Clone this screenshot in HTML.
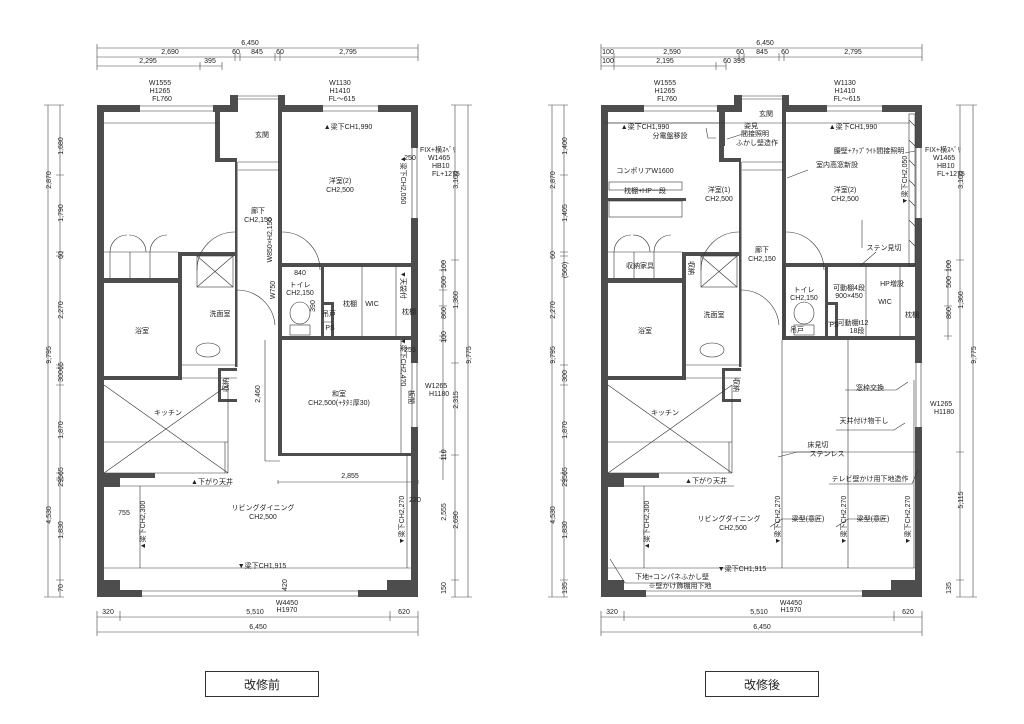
<!DOCTYPE html>
<html><head><meta charset="utf-8"><style>
html,body{margin:0;padding:0;background:#fff;width:1024px;height:724px;overflow:hidden}
svg{display:block}
text{font-family:"Liberation Sans","Noto Sans CJK JP",sans-serif;fill:#222}
.s{font-size:7px}
.m{font-size:7.5px}
.w{fill:#4d4d4d}
.l{stroke:#333;stroke-width:.6;fill:none}
.t{stroke:#555;stroke-width:1.6;fill:none}
.d{stroke:#444;stroke-width:.6;fill:none}
</style></head><body>
<svg width="1024" height="724" viewBox="0 0 1024 724" xmlns="http://www.w3.org/2000/svg">
<defs>
<g id="walls">
 <!-- outer -->
 <rect class="w" x="97" y="105" width="7" height="492"/>
 <rect class="w" x="97" y="105" width="43" height="7"/>
 <rect class="w" x="213" y="105" width="17" height="7"/>
 <rect class="w" x="230" y="95" width="8" height="17"/>
 <rect class="w" x="278" y="95" width="7" height="17"/>
 <rect class="w" x="285" y="105" width="38" height="7"/>
 <rect class="w" x="378" y="105" width="40" height="7"/>
 <rect class="w" x="411" y="105" width="7" height="43"/>
 <rect class="w" x="411" y="218" width="7" height="145"/>
 <rect class="w" x="411" y="427" width="7" height="170"/>
 <rect class="w" x="97" y="590" width="45" height="7"/>
 <rect class="w" x="358" y="590" width="60" height="7"/>
 <rect class="w" x="97" y="580" width="23" height="17"/>
 <rect class="w" x="387" y="580" width="31" height="17"/>
 <!-- windows -->
 <path class="l" d="M140 106H213M140 111H213M323 106H378M323 111H378M412 148V218M417 148V218M412 363V427M417 363V427M142 591H358M142 596H358M238 96H278M238 99H278"/>
 <!-- entry closet -->
 <rect class="w" x="215" y="112" width="5" height="50"/>
 <rect class="w" x="215" y="158" width="22" height="4"/>
 <path class="l" d="M238 162H278M238 170H278"/>
 <!-- hall walls -->
 <rect class="w" x="235" y="162" width="2.5" height="205"/>
 <rect class="w" x="278" y="112" width="4" height="153"/>
 <!-- left bedroom closet -->
 <path class="l" d="M104 252H178M104 123H218"/>
 <rect class="w" x="97" y="278" width="83" height="5"/>
 <path class="l" d="M110 252V278M130 252V278M150 252V278"/>
 <path class="l" d="M110 252A17 17 0 0 1 127 235M146 252A17 17 0 0 0 129 235M150 252A17 17 0 0 1 167 235"/>
 <!-- bath/wash -->
 <rect class="w" x="178" y="252" width="4" height="128"/>
 <rect class="w" x="178" y="252" width="59" height="4"/>
 <rect class="w" x="97" y="376" width="85" height="4"/>
 <rect class="l" x="197" y="256" width="36" height="31"/>
 <path class="l" d="M197 256L233 287M233 256L197 287M182 365H237M182 378H237"/>
 <ellipse class="l" cx="208" cy="350" rx="12" ry="7"/>
 <!-- storage -->
 <rect class="w" x="218" y="368" width="19" height="3"/>
 <rect class="w" x="218" y="368" width="3" height="34"/>
 <rect class="w" x="218" y="399" width="19" height="3"/>
 <!-- kitchen -->
 <path class="l" d="M104 385L228 473M228 385L104 473M104 442H228M228 385V473M225 442V473M104 473H228"/>
 <rect class="w" x="97" y="473" width="58" height="5"/>
 <rect class="w" x="97" y="473" width="23" height="14"/>
 <path class="l" d="M120 486H230M140 486V568M104 568H411"/>
 <!-- toilet / wic -->
 <rect class="w" x="278" y="263" width="140" height="4"/>
 <rect class="w" x="278" y="263" width="4" height="77"/>
 <rect class="w" x="278" y="336" width="140" height="4"/>
 <rect class="w" x="321" y="263" width="3" height="77"/>
 <rect class="w" x="324" y="302" width="8" height="3"/>
 <rect class="w" x="331" y="302" width="3" height="34"/>
 <path class="l" d="M324 322H333M362 267V336M396 267V336"/>
 <ellipse class="l" cx="300" cy="313" rx="10" ry="11"/>
 <rect class="l" x="290" y="325" width="20" height="10"/>
 <!-- doors -->
 <path class="l" d="M235 232A38 38 0 0 0 197 270M282 232A38 38 0 0 1 320 270M237 290A38 38 0 0 1 275 325"/>
</g>
</defs>

<use href="#walls"/>
<use href="#walls" x="504"/>

<!-- LEFT specific: washitsu -->
<rect class="w" x="278" y="340" width="4" height="115"/>
<rect class="w" x="278" y="453" width="140" height="3"/>
<path class="l" d="M265 340V461M265 461H280M401 340V453M407 455V568"/>
<path class="d" d="M278 482H418M278 480V484M418 480V484"/>

<!-- RIGHT specific -->
<path class="l" d="M782 340V568M848 340V568M914 380V568M782 452H918M784 263V340M862 220V248"/>
<rect class="l" x="609" y="182" width="73" height="8"/>
<rect class="w" x="604" y="198" width="82" height="3"/>
<rect class="l" x="609" y="201" width="73" height="16"/>
<rect class="l" x="909" y="114" width="6" height="152"/>
<path class="l" d="M909 120L915 126M909 140L915 146M909 160L915 166M909 180L915 186M909 200L915 206M909 220L915 226M909 240L915 246"/>
<rect class="w" x="719" y="108" width="6" height="38"/>
<path class="l" d="M604 123H910"/>

<!-- top dims left -->
<path class="d" d="M97 48H418M97 57H418M97 66H222M97 44V70M418 44V61M235 53V61M240 53V61M275 53V61M280 53V61M200 62V70M222 62V70"/>
<text class="s" x="250" y="45" text-anchor="middle">6,450</text>
<text class="s" x="170" y="54" text-anchor="middle">2,690</text>
<text class="s" x="236" y="54" text-anchor="middle">60</text>
<text class="s" x="257" y="54" text-anchor="middle">845</text>
<text class="s" x="280" y="54" text-anchor="middle">60</text>
<text class="s" x="348" y="54" text-anchor="middle">2,795</text>
<text class="s" x="148" y="63" text-anchor="middle">2,295</text>
<text class="s" x="210" y="63" text-anchor="middle">395</text>
<!-- top dims right -->
<path class="d" d="M601 48H922M601 57H922M601 66H726M601 44V70M922 44V61M614 53V70M739 53V61M744 53V61M779 53V61M784 53V61M716 62V70M726 62V70"/>
<text class="s" x="765" y="45" text-anchor="middle">6,450</text>
<text class="s" x="608" y="54" text-anchor="middle">100</text>
<text class="s" x="672" y="54" text-anchor="middle">2,590</text>
<text class="s" x="740" y="54" text-anchor="middle">60</text>
<text class="s" x="762" y="54" text-anchor="middle">845</text>
<text class="s" x="785" y="54" text-anchor="middle">60</text>
<text class="s" x="853" y="54" text-anchor="middle">2,795</text>
<text class="s" x="608" y="63" text-anchor="middle">100</text>
<text class="s" x="665" y="63" text-anchor="middle">2,195</text>
<text class="s" x="727" y="63" text-anchor="middle">60</text>
<text class="s" x="739" y="63" text-anchor="middle">395</text>

<!-- window labels -->
<g class="s" text-anchor="middle">
<text x="160" y="85">W1555</text><text x="160" y="93">H1265</text><text x="162" y="101">FL760</text>
<text x="340" y="85">W1130</text><text x="340" y="93">H1410</text><text x="342" y="101">FL～615</text>
<text x="665" y="85">W1555</text><text x="665" y="93">H1265</text><text x="667" y="101">FL760</text>
<text x="845" y="85">W1130</text><text x="845" y="93">H1410</text><text x="847" y="101">FL～615</text>
</g>
<g class="s">
<text x="420" y="152">FIX+横ｽﾍﾞﾘ</text><text x="428" y="160">W1465</text><text x="432" y="168">HB10</text><text x="432" y="176">FL+1275</text>
<text x="425" y="388">W1265</text><text x="429" y="396">H1180</text>
<text x="925" y="152">FIX+横ｽﾍﾞﾘ</text><text x="933" y="160">W1465</text><text x="937" y="168">HB10</text><text x="937" y="176">FL+1275</text>
<text x="930" y="406">W1265</text><text x="934" y="414">H1180</text>
</g>

<!-- side dims left plan -->
<path class="d" d="M48 105V597M60 105V597M44 105H64M44 597H64M56 175H64M56 252H64M56 256H64M56 365H64M56 368H64M56 385H64M56 473H64M56 478H64M56 480H64M56 580H64"/>
<path class="d" d="M455 105V597M468 105V597M443 260V480M451 105H472M451 597H472M451 260H459M451 363H459M451 455H459M451 580H459M439 270H447M439 290H447M439 306H447M439 336H447M439 340H447M439 452H447M439 458H447"/>
<path class="d" d="M552 105V597M564 105V597M548 105H568M548 597H568M560 175H568M560 252H568M560 256H568M560 365H568M560 385H568M560 473H568M560 480H568M560 580H568"/>
<path class="d" d="M960 105V597M973 105V597M948 260V340M956 105H977M956 597H977M956 260H964M956 452H964M956 580H964M944 270H952M944 306H952M944 336H952"/>
<g class="s" text-anchor="middle">
<text transform="translate(63,146) rotate(-90)">1,680</text>
<text transform="translate(51,180) rotate(-90)">2,870</text>
<text transform="translate(63,213) rotate(-90)">1,790</text>
<text transform="translate(63,255) rotate(-90)">60</text>
<text transform="translate(63,310) rotate(-90)">2,270</text>
<text transform="translate(51,355) rotate(-90)">9,795</text>
<text transform="translate(63,376) rotate(-90)">300</text>
<text transform="translate(63,366) rotate(-90)">65</text>
<text transform="translate(63,430) rotate(-90)">1,870</text>
<text transform="translate(51,515) rotate(-90)">4,530</text>
<text transform="translate(63,477) rotate(-90)">29565</text>
<text transform="translate(63,530) rotate(-90)">1,830</text>
<text transform="translate(63,588) rotate(-90)">70</text>
<text transform="translate(458,180) rotate(-90)">3,100</text>
<text transform="translate(446,266) rotate(-90)">100</text>
<text transform="translate(446,282) rotate(-90)">500</text>
<text transform="translate(458,300) rotate(-90)">1,360</text>
<text transform="translate(446,313) rotate(-90)">860</text>
<text transform="translate(446,337) rotate(-90)">100</text>
<text transform="translate(471,355) rotate(-90)">9,775</text>
<text transform="translate(458,400) rotate(-90)">2,315</text>
<text transform="translate(446,455) rotate(-90)">110</text>
<text transform="translate(446,512) rotate(-90)">2,555</text>
<text transform="translate(458,520) rotate(-90)">2,690</text>
<text transform="translate(446,588) rotate(-90)">150</text>

<text transform="translate(567,146) rotate(-90)">1,400</text>
<text transform="translate(555,180) rotate(-90)">2,870</text>
<text transform="translate(567,213) rotate(-90)">1,405</text>
<text transform="translate(555,255) rotate(-90)">60</text>
<text transform="translate(567,270) rotate(-90)">(560)</text>
<text transform="translate(555,310) rotate(-90)">2,270</text>
<text transform="translate(555,355) rotate(-90)">9,795</text>
<text transform="translate(567,376) rotate(-90)">300</text>
<text transform="translate(567,430) rotate(-90)">1,870</text>
<text transform="translate(555,515) rotate(-90)">4,530</text>
<text transform="translate(567,477) rotate(-90)">29565</text>
<text transform="translate(567,530) rotate(-90)">1,830</text>
<text transform="translate(567,588) rotate(-90)">135</text>
<text transform="translate(963,180) rotate(-90)">3,100</text>
<text transform="translate(951,266) rotate(-90)">100</text>
<text transform="translate(951,282) rotate(-90)">500</text>
<text transform="translate(963,300) rotate(-90)">1,360</text>
<text transform="translate(951,313) rotate(-90)">860</text>
<text transform="translate(976,355) rotate(-90)">9,775</text>
<text transform="translate(963,500) rotate(-90)">5,115</text>
<text transform="translate(951,588) rotate(-90)">135</text>
</g>

<!-- bottom dims -->
<path class="d" d="M97 617H418M97 632H418M97 611V636M120 611V621M390 611V621M418 611V636"/>
<path class="d" d="M601 617H922M601 632H922M601 611V636M624 611V621M894 611V621M922 611V636"/>
<g class="s" text-anchor="middle">
<text x="108" y="614">320</text><text x="255" y="614">5,510</text><text x="404" y="614">620</text><text x="258" y="629">6,450</text>
<text x="612" y="614">320</text><text x="759" y="614">5,510</text><text x="908" y="614">620</text><text x="762" y="629">6,450</text>
<text x="287" y="605">W4450</text><text x="287" y="612">H1970</text>
<text x="791" y="605">W4450</text><text x="791" y="612">H1970</text>
</g>

<!-- room labels left -->
<g class="s" text-anchor="middle">
<text x="262" y="137">玄関</text>
<text x="258" y="213">廊下</text><text x="258" y="222">CH2,150</text>
<text x="340" y="183">洋室(2)</text><text x="340" y="192">CH2,500</text>
<text x="348" y="129">▲梁下CH1,990</text>
<text x="300" y="287">トイレ</text><text x="300" y="295">CH2,150</text>
<text x="300" y="275">840</text>
<text x="350" y="306">枕棚</text><text x="372" y="306">WIC</text><text x="409" y="314">枕棚</text>
<text x="329" y="316">吊戸</text><text x="330" y="330">PS</text>
<text x="220" y="316">洗面室</text>
<text x="142" y="333">浴室</text>
<text x="339" y="396">和室</text><text x="339" y="405">CH2,500(+ﾀﾀﾐ厚30)</text>
<text x="168" y="415">キッチン</text>
<text x="212" y="484">▲下がり天井</text>
<text x="263" y="510">リビングダイニング</text><text x="263" y="519">CH2,500</text>
<text x="262" y="568">▼梁下CH1,915</text>
<text x="124" y="515">755</text>
<text x="350" y="478">2,855</text>
<text x="410" y="160">250</text>
<text x="410" y="352">255</text>
<text x="415" y="502">220</text>
</g>
<g class="s" text-anchor="middle">
<text transform="translate(401,180) rotate(90)">▼梁下CH2,050</text>
<text transform="translate(401,285) rotate(90)">▼天袋付</text>
<text transform="translate(401,362) rotate(90)">▼梁下CH2,4?0</text>
<text transform="translate(409,397) rotate(90)">板間</text>
<text transform="translate(272,240) rotate(-90)">W850×H2,150</text>
<text transform="translate(275,290) rotate(-90)">W750</text>
<text transform="translate(315,306) rotate(-90)">390</text>
<text transform="translate(260,394) rotate(-90)">2,460</text>
<text transform="translate(228,385) rotate(-90)">収納</text>
<text transform="translate(145,525) rotate(-90)">▲梁下CH2,300</text>
<text transform="translate(404,520) rotate(-90)">▼梁下CH2,270</text>
<text transform="translate(287,585) rotate(-90)">420</text>
</g>

<!-- room labels right -->
<g class="s" text-anchor="middle">
<text x="766" y="116">玄関</text>
<text x="645" y="129">▲梁下CH1,990</text>
<text x="670" y="138">分電盤移設</text>
<text x="751" y="128">姿見</text><text x="755" y="136">間接照明</text><text x="757" y="145">ふかし壁造作</text>
<text x="853" y="129">▲梁下CH1,990</text>
<text x="869" y="153">腰壁+ｱｯﾌﾟﾗｲﾄ間接照明</text>
<text x="837" y="167">室内高窓新設</text>
<text x="645" y="173">コンポリアW1600</text>
<text x="645" y="193">枕棚+HP一段</text>
<text x="719" y="192">洋室(1)</text><text x="719" y="201">CH2,500</text>
<text x="845" y="192">洋室(2)</text><text x="845" y="201">CH2,500</text>
<text x="762" y="252">廊下</text><text x="762" y="261">CH2,150</text>
<text x="884" y="250">ステン見切</text>
<text x="640" y="268">収納家具</text>
<text x="804" y="292">トイレ</text><text x="804" y="300">CH2,150</text>
<text x="849" y="290">可動棚4段</text><text x="849" y="298">900×450</text>
<text x="892" y="286">HP増設</text>
<text x="885" y="304">WIC</text>
<text x="912" y="317">枕棚</text>
<text x="797" y="332">吊戸</text>
<text x="834" y="327">PS</text>
<text x="853" y="325">可動棚t12</text><text x="857" y="333">18段</text>
<text x="714" y="317">洗面室</text>
<text x="645" y="333">浴室</text>
<text x="870" y="390">窓枠交換</text>
<text x="864" y="423">天井付け物干し</text>
<text x="818" y="447">床見切</text><text x="827" y="456">ステンレス</text>
<text x="870" y="481">テレビ壁かけ用下地造作</text>
<text x="665" y="415">キッチン</text>
<text x="706" y="483">▲下がり天井</text>
<text x="729" y="521">リビングダイニング</text><text x="733" y="530">CH2,500</text>
<text x="808" y="521">梁型(意匠)</text>
<text x="873" y="521">梁型(意匠)</text>
<text x="742" y="571">▼梁下CH1,915</text>
<text x="672" y="579">下地+コンパネふかし壁</text>
<text x="680" y="588">※壁かけ飾棚用下地</text>
</g>
<g class="s" text-anchor="middle">
<text transform="translate(689,268) rotate(90)">収納</text>
<text transform="translate(734,385) rotate(90)">収納</text>
<text transform="translate(907,180) rotate(-90)">▼梁下CH2,050</text>
<text transform="translate(649,525) rotate(-90)">▲梁下CH2,300</text>
<text transform="translate(780,520) rotate(-90)">▼梁下CH2,270</text>
<text transform="translate(846,520) rotate(-90)">▼梁下CH2,270</text>
<text transform="translate(910,520) rotate(-90)">▼梁下CH2,270</text>
</g>
<path class="l" d="M716 138H708L706 128M746 133L727 139M905 153L915 151M808 170L787 178M876 252L860 266M908 382L896 390H845M905 423L894 430H836M778 457L797 452H835M918 470L912 484H829M770 527L782 519H820M836 527L848 519H885M610 559L625 583H710"/>

<!-- caption boxes -->
<rect x="205.5" y="671.5" width="113" height="25" fill="none" stroke="#333" stroke-width="1"/>
<text x="262" y="689" text-anchor="middle" style="font-size:12px">改修前</text>
<rect x="705.5" y="671.5" width="113" height="25" fill="none" stroke="#333" stroke-width="1"/>
<text x="762" y="689" text-anchor="middle" style="font-size:12px">改修後</text>
</svg>
</body></html>
